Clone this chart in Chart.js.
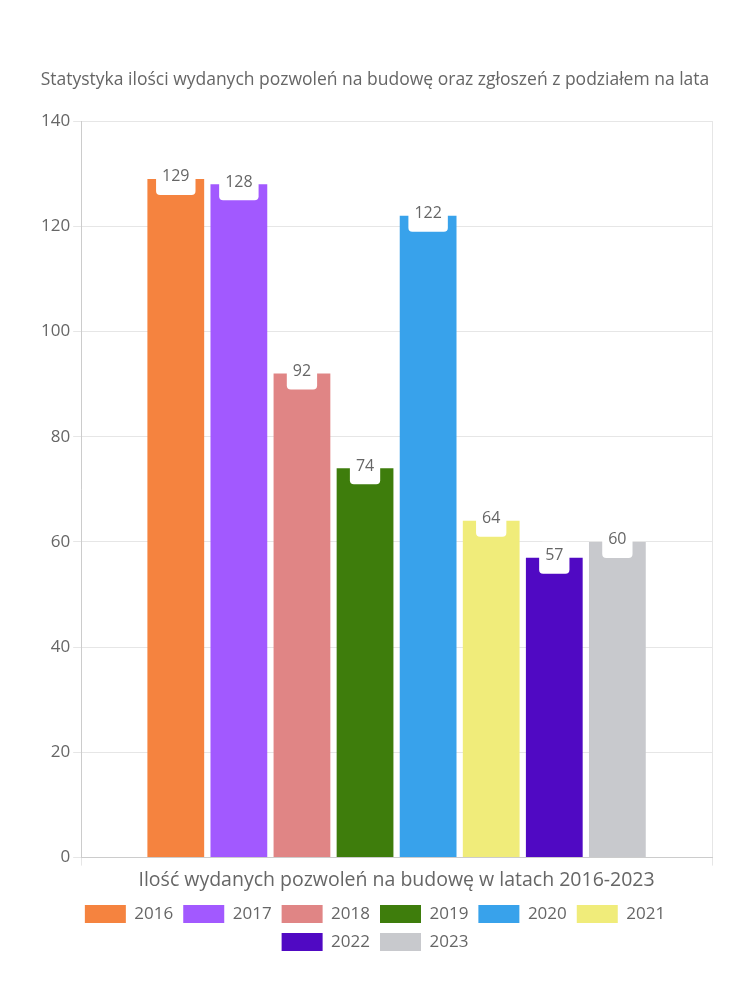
<!DOCTYPE html>
<html lang="pl">
<head>
    <meta charset="UTF-8">
    <title>Pozwolenia na budowę 2016-2023</title>
    <script src="https://cdn.jsdelivr.net/npm/chart.js"></script>
    <style>
        html, body { margin: 0; padding: 0; background: #fff; }
        .wrap { width: 750px; height: 1000px; }
    </style>
</head>
<body>
    <div class="wrap"><canvas id="chart"></canvas></div>
    <script>
        const categories = ['Ilość wydanych pozwoleń na budowę w latach 2016-2023'];
        const years = ['2016', '2017', '2018', '2019', '2020', '2021', '2022', '2023'];
        const permits = [129, 128, 92, 74, 122, 64, 57, 60];
        const colors = ['#f5833f', '#a259ff', '#e08585', '#3e7d0c', '#38a2eb', '#f0ec7a', '#5009c3', '#c8c9cd'];

        const fontFamily = "'Open Sans', 'Noto Sans', sans-serif";
        const textColor = '#666';

        // white rounded box with the value at the top of every bar
        const valueLabels = {
            id: 'valueLabels',
            afterDatasetsDraw(chart) {
                const ctx = chart.ctx;
                ctx.save();
                ctx.font = '16px ' + fontFamily;
                ctx.textAlign = 'center';
                ctx.textBaseline = 'middle';
                chart.data.datasets.forEach((ds, i) => {
                    const meta = chart.getDatasetMeta(i);
                    meta.data.forEach((bar, j) => {
                        const text = String(ds.data[j]);
                        const w = ctx.measureText(text).width + 12;
                        const h = 32;
                        ctx.fillStyle = '#fff';
                        ctx.beginPath();
                        ctx.roundRect(bar.x - w / 2, bar.y - h / 2, w, h, 4);
                        ctx.fill();
                        ctx.fillStyle = textColor;
                        ctx.fillText(text, bar.x, bar.y - 2);
                    });
                });
                ctx.restore();
            }
        };

        new Chart(document.getElementById('chart'), {
            type: 'bar',
            data: {
                labels: categories,
                datasets: years.map((y, i) => ({
                    label: y,
                    data: [permits[i]],
                    backgroundColor: colors[i],
                    borderColor: colors[i],
                    borderWidth: 0
                }))
            },
            options: {
                responsive: true,
                maintainAspectRatio: false,
                animation: false,
                layout: { padding: { left: 38, right: 38, top: 70, bottom: 39 } },
                plugins: {
                    title: {
                        display: true,
                        text: 'Statystyka ilości wydanych pozwoleń na budowę oraz zgłoszeń z podziałem na lata',
                        color: textColor,
                        font: { family: fontFamily, size: 17.5, weight: 'normal' },
                        padding: { top: 0, bottom: 30 }
                    },
                    legend: {
                        position: 'bottom',
                        labels: {
                            color: textColor,
                            font: { family: fontFamily, size: 17 },
                            boxWidth: 41,
                            boxHeight: 18,
                            padding: 10
                        }
                    },
                    tooltip: { enabled: false }
                },
                scales: {
                    x: {
                        grid: { color: '#e6e6e6' },
                        border: { color: '#ccc' },
                        ticks: { color: textColor, font: { family: fontFamily, size: 19.5 } }
                    },
                    y: {
                        min: 0,
                        max: 140,
                        ticks: { stepSize: 20, color: textColor, font: { family: fontFamily, size: 17 } },
                        grid: { color: '#e6e6e6' },
                        border: { color: '#ccc' }
                    }
                }
            },
            plugins: [valueLabels]
        });
    </script>
</body>
</html>
